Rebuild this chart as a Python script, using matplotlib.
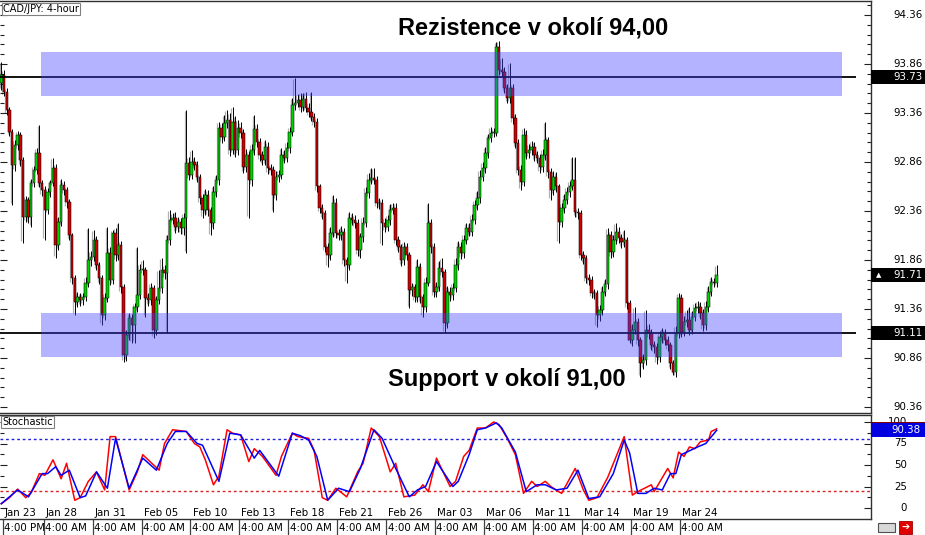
import matplotlib
matplotlib.use('Agg')
import matplotlib.pyplot as plt
import matplotlib.transforms as mtransforms
from matplotlib.patches import Rectangle
from matplotlib.lines import Line2D
import numpy as np

# ---------------- data ----------------
symbol_label = "CAD/JPY: 4-hour"
open_first = 93.67
closes = [
    93.75, 93.57, 93.39, 93.17, 92.83, 93.03, 93.14, 92.88, 92.30, 92.47,
    92.30, 92.65, 92.78, 92.95, 92.65, 92.57, 92.37, 92.55, 92.65, 92.80,
    92.01, 92.25, 92.63, 92.57, 92.45, 92.11, 91.68, 91.43, 91.48, 91.45,
    91.48, 91.63, 91.86, 91.89, 92.06, 91.81, 91.68, 91.30, 91.47, 91.93,
    91.66, 92.14, 91.91, 92.01, 91.58, 90.89, 91.09, 91.27, 91.20, 91.38,
    91.50, 91.76, 91.76, 91.47, 91.45, 91.57, 91.15, 91.45, 91.57, 91.76,
    91.73, 92.06, 92.27, 92.29, 92.20, 92.25, 92.19, 92.29, 92.85, 92.73,
    92.86, 92.83, 92.71, 92.49, 92.37, 92.52, 92.37, 92.24, 92.55, 92.68,
    93.21, 93.11, 93.26, 93.29, 92.98, 93.27, 92.98, 93.21, 93.16, 92.81,
    92.93, 92.68, 92.98, 93.20, 93.06, 92.93, 92.88, 93.01, 92.80, 92.78,
    92.52, 92.71, 92.73, 92.93, 92.90, 93.00, 93.17, 93.44, 93.46, 93.49,
    93.42, 93.50, 93.41, 93.37, 93.32, 93.27, 92.61, 92.39, 92.34, 91.99,
    91.91, 92.14, 92.44, 92.14, 92.11, 92.15, 91.86, 91.81, 92.29, 92.27,
    92.24, 91.96, 92.09, 92.24, 92.54, 92.68, 92.70, 92.68, 92.44, 92.44,
    92.24, 92.20, 92.27, 92.37, 92.39, 92.06, 91.99, 91.86, 91.99, 91.91,
    91.55, 91.58, 91.48, 91.79, 91.48, 91.38, 91.63, 92.24, 91.99, 91.53,
    91.58, 91.78, 91.74, 91.22, 91.53, 91.50, 91.57, 91.81, 91.99, 91.93,
    92.06, 92.19, 92.15, 92.27, 92.42, 92.49, 92.71, 92.80, 92.95, 93.10,
    93.16, 93.16, 94.03, 93.80, 93.78, 93.62, 93.51, 93.62, 93.31, 93.05,
    92.78, 92.66, 93.14, 92.95, 92.98, 93.01, 92.93, 92.90, 92.81, 92.93,
    93.08, 92.76, 92.57, 92.71, 92.61, 92.25, 92.39, 92.47, 92.55, 92.61,
    92.68, 92.35, 92.34, 91.91, 91.88, 91.68, 91.66, 91.52, 91.52, 91.30,
    91.35, 91.53, 91.61, 92.11, 91.94, 92.06, 92.15, 92.08, 92.04, 92.06,
    91.42, 91.04, 91.15, 91.23, 91.04, 90.81, 90.84, 91.15, 91.11, 90.99,
    90.97, 90.87, 91.07, 91.11, 91.04, 90.99, 90.81, 90.72, 91.11, 91.47,
    91.13, 91.23, 91.25, 91.15, 91.28, 91.37, 91.38, 91.32, 91.20, 91.38,
    91.53, 91.64, 91.63, 91.71,
]
# wick lengths beyond the candle body, in pips (0.01 JPY)
upper_wick_pips = [
    13, 5, 4, 3, 3, 5, 4, 3, 3, 4,
    3, 4, 4, 5, 29, 3, 4, 4, 3, 10,
    4, 5, 6, 4, 3, 3, 3, 3, 5, 4,
    4, 6, 33, 6, 11, 4, 3, 3, 5, 27,
    6, 3, 5, 23, 4, 3, 6, 5, 4, 4,
    49, 6, 10, 3, 5, 6, 3, 4, 19, 12,
    5, 6, 10, 5, 6, 5, 4, 5, 54, 6,
    12, 5, 4, 3, 4, 6, 5, 3, 6, 5,
    6, 5, 8, 10, 7, 15, 6, 8, 6, 4,
    6, 4, 6, 14, 5, 4, 4, 7, 5, 4,
    4, 6, 5, 7, 5, 6, 5, 7, 26, 6,
    7, 6, 7, 5, 20, 4, 4, 3, 4, 3,
    4, 6, 8, 5, 4, 6, 4, 3, 6, 5,
    5, 4, 5, 6, 6, 7, 10, 10, 4, 5,
    4, 5, 5, 6, 5, 5, 4, 3, 5, 4,
    3, 5, 4, 8, 4, 3, 6, 20, 4, 4,
    6, 7, 10, 3, 6, 5, 6, 7, 6, 5,
    6, 5, 5, 6, 5, 7, 7, 6, 6, 5,
    6, 5, 5, 6, 12, 5, 4, 25, 4, 4,
    4, 5, 7, 5, 6, 6, 5, 4, 4, 6,
    19, 4, 4, 6, 5, 3, 5, 6, 5, 6,
    23, 23, 4, 3, 4, 3, 4, 4, 4, 3,
    5, 6, 6, 8, 5, 6, 9, 5, 5, 11,
    3, 3, 6, 15, 4, 3, 6, 20, 6, 5,
    4, 4, 7, 6, 5, 4, 3, 3, 8, 5,
    4, 6, 10, 13, 6, 5, 6, 5, 4, 6,
    6, 5, 4, 10,
]
lower_wick_pips = [
    8, 4, 5, 4, 41, 6, 5, 6, 27, 5,
    6, 10, 5, 4, 5, 6, 31, 4, 5, 4,
    13, 5, 4, 5, 6, 5, 6, 13, 5, 6,
    5, 4, 5, 6, 4, 5, 6, 10, 5, 4,
    6, 5, 6, 5, 6, 7, 6, 5, 19, 19,
    5, 4, 5, 19, 6, 5, 9, 6, 4, 5,
    6, 61, 5, 4, 6, 5, 6, 8, 36, 5,
    4, 5, 5, 6, 8, 5, 6, 13, 6, 5,
    5, 6, 4, 5, 6, 4, 7, 5, 6, 6,
    5, 39, 6, 5, 5, 6, 5, 5, 6, 5,
    17, 5, 5, 4, 5, 4, 5, 4, 5, 4,
    5, 4, 4, 5, 4, 5, 6, 5, 6, 5,
    12, 5, 5, 6, 5, 5, 6, 18, 5, 5,
    5, 6, 8, 5, 4, 5, 4, 4, 5, 6,
    23, 5, 4, 5, 4, 5, 5, 6, 5, 5,
    18, 6, 5, 5, 6, 10, 5, 4, 6, 5,
    5, 4, 5, 10, 5, 6, 5, 4, 5, 6,
    5, 4, 5, 5, 4, 5, 5, 4, 5, 5,
    4, 5, 3, 5, 4, 6, 5, 5, 6, 5,
    5, 9, 5, 6, 5, 5, 6, 5, 6, 5,
    5, 6, 10, 5, 6, 22, 5, 5, 4, 5,
    4, 5, 6, 5, 6, 5, 6, 5, 6, 12,
    6, 5, 4, 5, 6, 5, 4, 5, 6, 5,
    6, 3, 6, 5, 6, 14, 6, 5, 6, 5,
    6, 7, 5, 6, 5, 6, 6, 3, 5, 5,
    6, 5, 5, 6, 5, 4, 5, 6, 6, 5,
    5, 4, 5, 5,
]

resistance_level = 93.73
support_level = 91.11
resistance_zone = (93.53, 93.98)
support_zone = (90.87, 91.32)
zone_bars = (14.6, 309.1)
level_line_end_bar = 314.2
last_price = 91.71
resistance_text = "Rezistence v okolí 94,00"
support_text = "Support v okolí 91,00"

price_ticks = [90.36, 90.86, 91.36, 91.86, 92.36, 92.86, 93.36, 93.86, 94.36]

stoch_k_bars = [0, 3, 6, 9, 11, 14, 16, 19, 22, 24, 27, 29, 32, 35, 38, 40, 42, 47, 50, 52,
                56, 58, 60, 63, 68, 71, 73, 75, 78, 80, 83, 85, 88, 91, 93, 96, 101, 103, 107, 109,
                113, 115, 118, 120, 123, 127, 131, 133, 136, 139, 143, 145, 148, 152, 155, 157, 160, 165, 167, 170,
                172, 175, 178, 181, 183, 186, 189, 192, 195, 197, 200, 202, 206, 211, 214, 216, 219, 223, 229, 232,
                234, 239, 240, 245, 247, 249, 251, 253, 255, 257, 260, 261, 263]
stoch_k = [5, 12, 22, 12, 18, 40, 38, 56, 34, 52, 9, 12, 31, 42, 21, 83, 83, 21, 42, 62,
           50, 44, 75, 91, 89, 75, 71, 56, 27, 37, 91, 87, 85, 54, 69, 60, 38, 60, 87, 83,
           81, 67, 12, 9, 23, 13, 42, 52, 93, 83, 42, 52, 13, 15, 27, 19, 58, 25, 31, 60,
           67, 93, 93, 100, 97, 81, 62, 17, 31, 25, 31, 25, 17, 46, 21, 9, 12, 36, 83, 15,
           19, 27, 19, 46, 35, 65, 60, 71, 69, 77, 79, 89, 92]
stoch_d_bars = [0, 6, 10, 15, 17, 20, 22, 25, 29, 31, 35, 39, 42, 47, 52, 57, 61, 64, 68, 72,
                74, 80, 84, 88, 93, 95, 102, 107, 110, 113, 116, 120, 124, 128, 132, 137, 140, 145, 150, 153,
                156, 160, 166, 168, 172, 175, 178, 182, 184, 189, 193, 197, 200, 204, 208, 212, 216, 220, 225, 229,
                231, 234, 237, 240, 243, 246, 248, 250, 252, 256, 259, 263]
stoch_d = [5, 21, 13, 40, 40, 48, 38, 44, 12, 14, 42, 23, 81, 23, 58, 44, 75, 89, 89, 75,
           73, 31, 87, 85, 58, 67, 37, 87, 84, 79, 60, 9, 23, 19, 46, 91, 81, 46, 13, 21,
           25, 54, 25, 31, 62, 91, 93, 99, 93, 65, 19, 27, 27, 21, 23, 44, 11, 13, 40, 79,
           64, 17, 17, 23, 21, 40, 40, 62, 65, 71, 75, 90.38]
stoch_levels = (80, 20)
stoch_ticks = [0, 25, 50, 75, 100]
stoch_last_k = 92
stoch_last_d = 90.38

date_bars = [0, 15, 33, 51, 69, 87, 105, 123, 141, 159, 177, 195, 213, 231, 249]
date_labels = ["Jan 23", "Jan 28", "Jan 31", "Feb 05", "Feb 10", "Feb 13", "Feb 18", "Feb 21",
               "Feb 26", "Mar 03", "Mar 06", "Mar 11", "Mar 14", "Mar 19", "Mar 24"]
time_labels = ["4:00 PM"] + ["4:00 AM"] * 14

assert len(closes) == len(upper_wick_pips) == len(lower_wick_pips)

# ---------------- figure ----------------
W, H = 925, 535
fig = plt.figure(figsize=(W / 100, H / 100), dpi=100)
fig.patch.set_facecolor('white')
FONT = 'DejaVu Sans'
PXW = 871  # plot area width in px
BAR_PX = 2.72
X0 = -1.3 / BAR_PX
X1 = (PXW - 1.3) / BAR_PX

ax = fig.add_axes([0, 1 - 413 / H, PXW / W, 412 / H])
sx = fig.add_axes([0, 1 - 519 / H, PXW / W, 104 / H])

n = len(closes)
x = np.arange(n)
c = np.array(closes)
o = np.r_[open_first, c[:-1]]
hi = np.maximum(o, c) + np.array(upper_wick_pips) / 100.0
lo = np.minimum(o, c) - np.array(lower_wick_pips) / 100.0

ax.set_xlim(X0, X1)
ax.set_ylim(94.513 - 413 / 98, 94.513 - 1 / 98)

# ghost bars
ax.vlines(x - 0.6, lo + 0.02, hi - 0.01, color='#b0b0b0', lw=0.9, zorder=1)
# wicks
ax.vlines(x, lo, hi, color='black', lw=0.7, zorder=2)
# bodies
bull = c >= o
body_h = np.maximum(np.abs(c - o), 0.006)
ax.bar(x, body_h, bottom=np.minimum(o, c), width=0.9,
       color=np.where(bull, '#00D000', '#D00000'), edgecolor='black', linewidth=0.35, zorder=3)

# levels and zones
ax.hlines([resistance_level, support_level], X0, level_line_end_bar, color='black', lw=1.3, zorder=3.5)
for z in (resistance_zone, support_zone):
    ax.add_patch(Rectangle((zone_bars[0], z[0]), zone_bars[1] - zone_bars[0], z[1] - z[0],
                           facecolor='#4141FF', alpha=0.4, edgecolor='none', zorder=4))

ax.text(195.7, 94.156, resistance_text, ha='center', va='baseline', fontsize=17,
        fontweight='bold', family='Liberation Sans', color='black', zorder=6)
ax.text(186.0, 90.574, support_text, ha='center', va='baseline', fontsize=17,
        fontweight='bold', family='Liberation Sans', color='black', zorder=6)

ax.text(3 / PXW, 1 - 8 / 412, symbol_label, transform=ax.transAxes, ha='left', va='center',
        fontsize=7, family=FONT, zorder=8,
        bbox=dict(boxstyle='square,pad=0.15', facecolor='white', edgecolor='#808080', lw=0.8))

# axis styling main
ax.set_xticks([])
ax.set_yticks(price_ticks)
ax.set_yticks(np.round(np.arange(90.36, 94.5, 0.1), 2), minor=True)
ax.tick_params(axis='y', which='both', left=True, right=True, direction='in',
               labelleft=False, labelright=False, color='#202020', width=0.8)
ax.tick_params(axis='y', which='major', length=5)
ax.tick_params(axis='y', which='minor', length=3)
ax.spines['left'].set_visible(False)
for s in ('top', 'right', 'bottom'):
    ax.spines[s].set_color('#303030')
    ax.spines[s].set_linewidth(1.0)

tr = mtransforms.blended_transform_factory(ax.transAxes, ax.transData)
for p in price_ticks:
    ax.text(893 / PXW, p, f"{p:.2f}", transform=tr, ha='left', va='center',
            fontsize=7.4, family=FONT, color='black', clip_on=False)

box_h = 14 / 98
for lvl, tri in ((resistance_level, False), (support_level, False), (last_price, True)):
    ax.add_patch(Rectangle((1.0, lvl - box_h / 2), 54 / PXW, box_h, transform=tr,
                           facecolor='black', edgecolor='none', clip_on=False, zorder=10))
    ax.text(893 / PXW, lvl, f"{lvl:.2f}", transform=tr, ha='left', va='center', fontsize=7.4,
            family=FONT, color='white', clip_on=False, zorder=11)
    if tri:
        ax.text(876 / PXW, lvl, "▲", transform=tr, ha='left', va='center', fontsize=5,
                family=FONT, color='white', clip_on=False, zorder=11)

# ---------------- stochastic ----------------
sx.set_xlim(X0, X1)
sx.set_ylim(-(519 - 508) / 0.86, 100 + (422 - 415) / 0.86)
sx.axhline(stoch_levels[0], color='#2020E0', ls=(0, (2, 2)), lw=1.0, zorder=1)
sx.axhline(stoch_levels[1], color='#E02020', ls=(0, (2, 2)), lw=1.0, zorder=1)
sx.plot(stoch_k_bars, stoch_k, color='#FF0000', lw=1.1, zorder=2)
sx.plot(stoch_d_bars, stoch_d, color='#0000FF', lw=1.1, zorder=3)

sx.set_xticks([])
sx.set_yticks(stoch_ticks)
sx.set_yticks(np.arange(0, 101, 12.5), minor=True)
sx.tick_params(axis='y', which='both', left=True, right=True, direction='in',
               labelleft=False, labelright=False, color='#202020', width=0.8)
sx.tick_params(axis='y', which='major', length=5)
sx.tick_params(axis='y', which='minor', length=3)
sx.spines['left'].set_visible(False)
for s in ('top', 'right', 'bottom'):
    sx.spines[s].set_color('#303030')
    sx.spines[s].set_linewidth(1.0)

trs = mtransforms.blended_transform_factory(sx.transAxes, sx.transData)
for v in stoch_ticks:
    sx.text(907 / PXW, v, f"{v}", transform=trs, ha='right', va='center', fontsize=7.4,
            family=FONT, color='black', clip_on=False)

sbox_h = 14 / 0.86
sx.add_patch(Rectangle((1.0, stoch_last_k - sbox_h / 2), 54 / PXW, sbox_h, transform=trs,
                       facecolor='#800000', edgecolor='none', clip_on=False, zorder=10))
sx.add_patch(Rectangle((1.0, stoch_last_d - sbox_h / 2), 54 / PXW, sbox_h, transform=trs,
                       facecolor='#0000E0', edgecolor='none', clip_on=False, zorder=11))
sx.text(921 / PXW, stoch_last_d, f"{stoch_last_d:.2f}", transform=trs, ha='right', va='center',
        fontsize=7.4, family=FONT, color='white', clip_on=False, zorder=12)

sx.text(2 / PXW, 1 - 7 / 104, "Stochastic", transform=sx.transAxes, ha='left', va='center',
        fontsize=7, family=FONT, zorder=8,
        bbox=dict(boxstyle='square,pad=0.15', facecolor='white', edgecolor='#808080', lw=0.8))

# date labels inside stochastic panel
for b, lab in zip(date_bars, date_labels):
    sx.text(b + 1.3, -(513 - 508) / 0.86, lab, ha='left', va='center', fontsize=7.4,
            family=FONT, color='black', zorder=5)

# time labels row below
trf = mtransforms.blended_transform_factory(sx.transData, fig.transFigure)
for b, lab in zip(date_bars, time_labels):
    sx.text(b + 1.0, 1 - 528 / H, lab, transform=trf, ha='left', va='center', fontsize=7.4,
            family=FONT, color='black', clip_on=False, zorder=5,
            bbox=dict(boxstyle='square,pad=0.1', facecolor='white', edgecolor='none'))
    fig.add_artist(Line2D([b + 0.55, b + 0.55], [1 - 520 / H, 0], transform=trf,
                          color='#404040', lw=0.9, zorder=6))

# bottom-right icons
fig.add_artist(Rectangle((878 / W, 1 - 532 / H), 17 / W, 9 / H, transform=fig.transFigure,
                         facecolor='#d8d8d8', edgecolor='#505050', lw=0.8))
fig.add_artist(Rectangle((899 / W, 1 - 534 / H), 13 / W, 13 / H, transform=fig.transFigure,
                         facecolor='#e00000', edgecolor='#a00000', lw=0.6))
fig.text(905.5 / W, 1 - 527.5 / H, "➔", ha='center', va='center', fontsize=7, color='white',
         family=FONT)

fig.savefig('out.png', dpi=100, facecolor='white')
